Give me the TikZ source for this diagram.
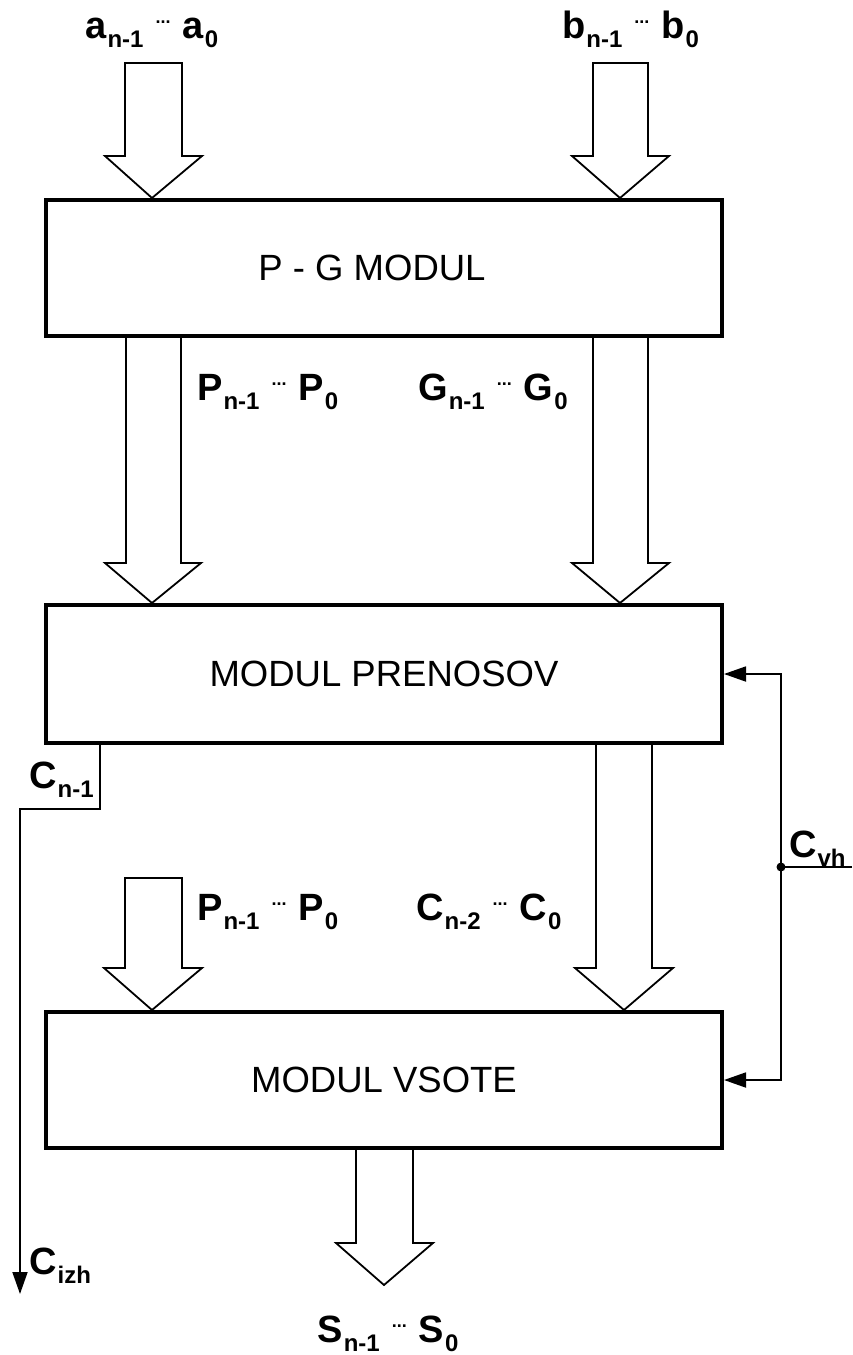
\documentclass[tikz,border=0pt]{standalone}
\usepackage{fontspec}
\setmainfont{Liberation Sans}
\usetikzlibrary{arrows.meta}
\newcommand{\sbx}[1]{\raisebox{-9pt}{\fontsize{24}{24}\selectfont\bfseries #1}}
\newcommand{\dotsx}{\raisebox{15pt}{\fontsize{18}{18}\selectfont\bfseries ...}}
\newcommand{\bus}[3]{\textbf{#1}\kern1pt\sbx{#2}\hspace{12pt}\dotsx\hspace{12pt}\textbf{#1}\kern1pt\sbx{#3}}
\tikzset{
  box/.style={draw, line width=4pt, minimum width=676pt, inner sep=0pt, font=\fontsize{36.5}{36.5}\selectfont},
  lab/.style={anchor=base west, inner sep=0pt, font=\fontsize{38}{38}\selectfont},
  hol/.style={draw, line width=1.8pt, line join=miter, fill=white},
  wire/.style={draw, line width=1.8pt},
  tip/.style={-{Triangle[length=22pt,width=15pt]}}
}
\begin{document}
\begin{tikzpicture}[x=1pt,y=-1pt]
\useasboundingbox (0,0) rectangle (852,1355);
% boxes
\node[box, minimum height=136pt] (pg) at (384,268) {P - G MODUL\hspace*{24pt}};
\node[box, minimum height=138pt] (pr) at (384,674) {MODUL PRENOSOV};
\node[box, minimum height=136pt] (vs) at (384,1080) {MODUL VSOTE};
% input arrows
\path[hol] (125,63) -- (125,156) -- (105,156) -- (152,0 |- pg.north) -- (202,156) -- (182,156) -- (182,63) -- cycle;
\path[hol] (593,63) -- (593,156) -- (572,156) -- (620,0 |- pg.north) -- (669,156) -- (648,156) -- (648,63) -- cycle;
% P and G buses
\path[hol] (126,0 |- pg.south) -- (126,563) -- (105,563) -- (152,0 |- pr.north) -- (201,563) -- (181,563) -- (181,0 |- pg.south);
\path[hol] (593,0 |- pg.south) -- (593,563) -- (572,563) -- (620,0 |- pr.north) -- (669,563) -- (648,563) -- (648,0 |- pg.south);
% C bus
\path[hol] (596,0 |- pr.south) -- (596,968) -- (575,968) -- (624,0 |- vs.north) -- (673,968) -- (652,968) -- (652,0 |- pr.south);
% P bus into sum module
\path[hol] (125,878) -- (125,968) -- (104,968) -- (152,0 |- vs.north) -- (202,968) -- (182,968) -- (182,878) -- cycle;
% S bus
\path[hol] (356,0 |- vs.south) -- (356,1243) -- (336,1243) -- (384,1285) -- (433,1243) -- (413,1243) -- (413,0 |- vs.south);
% carry out
\coordinate (cizh) at (20,1294);
\draw[wire, tip] (100,0 |- pr.south) -- (100,809) -- (20,809) -- (cizh);
% carry in
\coordinate (cin) at (852,867);
\coordinate (j) at (781,867);
\draw[wire] (cin) -- (j);
\fill (j) circle (4.5pt);
\draw[wire, tip] (j) |- (pr.east);
\draw[wire, tip] (j) |- (vs.east);
% labels
\node[lab] (la) at (85,38) {\bus{a}{n-1}{0}};
\node[lab] (lb) at (562,38) {\bus{b}{n-1}{0}};
\node[lab] (lp1) at (197,400) {\bus{P}{n-1}{0}};
\node[lab] (lg1) at (418,400) {\bus{G}{n-1}{0}};
\node[lab] (lp2) at (197,920) {\bus{P}{n-1}{0}};
\node[lab] (lc2) at (416,920) {\bus{C}{n-2}{0}};
\node[lab] (lcn) at (29,788) {\textbf{C}\kern1pt\sbx{n-1}};
\node[lab] (lcvh) at (789,857) {\textbf{C}\kern1pt\sbx{vh}};
\node[lab] (lcizh) at (29,1274) {\textbf{C}\kern1pt\sbx{izh}};
\node[lab, anchor=base] (ls) at (388,1342) {\bus{S}{n-1}{0}};
\end{tikzpicture}
\end{document}
